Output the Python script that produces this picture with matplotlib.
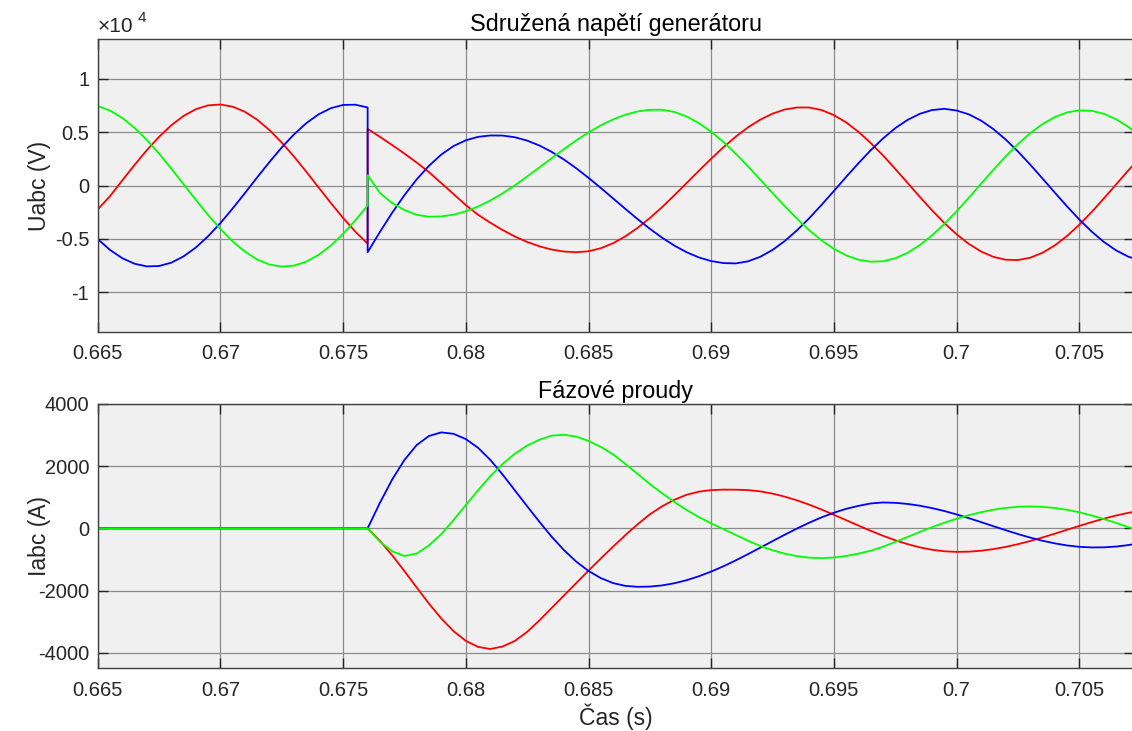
# -*- coding: utf-8 -*-
import numpy as np
import matplotlib
matplotlib.use("Agg")
import matplotlib.pyplot as plt

plt.rcParams['font.family'] = ['Liberation Sans', 'DejaVu Sans']
plt.rcParams['axes.unicode_minus'] = False

# time axis: before the fault and after it (step 0.5 ms)
t_pre = np.linspace(0.665, 0.676, 23)
t_post = np.linspace(0.676, 0.7075, 64)

# line voltages (V) before the fault
ua_pre = [-2250, -1000, 472, 1924, 3308, 4561, 5648, 6522, 7152, 7513, 7593, 7388,
          6907, 6166, 5193, 4024, 2713, 1290, -177, -1638, -3040, -4324, -5452]
ub_pre = [7452, 7025, 6333, 5405, 4277, 2991, 1578, 118, -1350, -2766, -4073, -5239,
          -6194, -6934, -7408, -7596, -7504, -7133, -6500, -5627, -4535, -3264, -1872]
uc_pre = [-5017, -6031, -6809, -7328, -7578, -7543, -7228, -6638, -5809, -4750, -3519, -2149,
          -707, 765, 2205, 3568, 4795, 5841, 6669, 7246, 7552, 7575, 7314]

# line voltages (V) after the fault
ua_post = [5310, 4560, 3790, 2990, 2150, 1250, 230, -800, -1830, -2740, -3490, -4170,
           -4780, -5290, -5700, -6000, -6185, -6250, -6160, -5876, -5406, -4764, -3969, -3041,
           -2024, -909, 234, 1388, 2517, 3591, 4579, 5450, 6171, 6737, 7121, 7316,
           7310, 7070, 6599, 5911, 5031, 3984, 2823, 1557, 249, -1061, -2330, -3513,
           -4574, -5474, -6187, -6687, -6953, -6982, -6763, -6302, -5615, -4729, -3672, -2491,
           -1212, 106, 1421, 2685]
ub_post = [970, -700, -1650, -2300, -2750, -2920, -2899, -2730, -2418, -1970, -1403, -733,
           20, 842, 1696, 2562, 3414, 4229, 4979, 5639, 6196, 6639, 6939, 7096,
           7098, 6890, 6467, 5842, 5034, 4072, 2983, 1792, 552, -707, -1944, -3120,
           -4204, -5149, -5938, -6548, -6952, -7137, -7097, -6817, -6307, -5583, -4670, -3598,
           -2412, -1132, 177, 1479, 2732, 3885, 4905, 5754, 6417, 6851, 7046, 7004,
           6723, 6211, 5489, 4580]
uc_post = [-6250, -4350, -2550, -900, 580, 1850, 2900, 3700, 4240, 4560, 4690, 4681,
           4524, 4211, 3749, 3152, 2435, 1619, 720, -225, -1205, -2186, -3144, -4052,
           -4891, -5632, -6253, -6741, -7079, -7267, -7298, -7103, -6678, -6035, -5195, -4190,
           -3051, -1803, -507, 807, 2090, 3304, 4410, 5373, 6148, 6722, 7072, 7190,
           7028, 6668, 6079, 5284, 4308, 3190, 1956, 660, -661, -1956, -3184, -4309,
           -5285, -6081, -6669, -7029]

# phase currents (A): zero before the fault
i_pre = np.zeros(len(t_pre))
ia_post = [0, -402, -867, -1377, -1905, -2422, -2899, -3306, -3618, -3813, -3880, -3800,
           -3620, -3330, -2960, -2560, -2160, -1760, -1360, -970, -590, -220, 130, 450,
           710, 920, 1080, 1180, 1230, 1245, 1243, 1230, 1188, 1117, 1019, 899,
           759, 603, 435, 262, 89, -80, -239, -383, -508, -612, -689, -738,
           -757, -750, -720, -668, -597, -509, -407, -293, -172, -46, 78, 199,
           312, 412, 499, 567]
ib_post = [0, -430, -740, -890, -810, -548, -186, 266, 748, 1223, 1680, 2070,
           2400, 2660, 2850, 2980, 3010, 2950, 2810, 2620, 2380, 2070, 1750, 1423,
           1125, 846, 587, 360, 160, -26, -213, -401, -567, -706, -815, -895,
           -943, -957, -938, -889, -812, -720, -593, -437, -277, -116, 38, 181,
           310, 423, 521, 599, 657, 693, 705, 692, 655, 596, 516, 415,
           299, 174, 39, -98]
ic_post = [0, 820, 1570, 2200, 2680, 2970, 3085, 3040, 2870, 2590, 2200, 1730,
           1220, 710, 210, -270, -700, -1070, -1370, -1600, -1760, -1850, -1880, -1873,
           -1835, -1766, -1667, -1540, -1390, -1219, -1030, -829, -621, -411, -204, -4,
           184, 354, 503, 627, 723, 800, 832, 820, 785, 728, 651, 557,
           447, 327, 199, 69, -60, -184, -298, -399, -483, -550, -594, -614,
           -611, -586, -538, -469]

x_ticks = [0.665, 0.67, 0.675, 0.68, 0.685, 0.69, 0.695, 0.7, 0.705]
x_labels = ['0.665', '0.67', '0.675', '0.68', '0.685', '0.69', '0.695', '0.7', '0.705']
u_ticks = [-1e4, -0.5e4, 0, 0.5e4, 1e4]
u_labels = ['-1', '-0.5', '0', '0.5', '1']
i_ticks = [-4000, -2000, 0, 2000, 4000]
i_labels = ['-4000', '-2000', '0', '2000', '4000']

TXT = '#262626'
LW = dict(lw=1.3, solid_joinstyle='round')


def style(ax):
    ax.set_facecolor('#f0f0f0')
    ax.grid(True, color='#8c8c8c', linewidth=0.9)
    ax.set_axisbelow(True)
    for s in ax.spines.values():
        s.set_color('#404040')
        s.set_linewidth(1.0)
    ax.tick_params(direction='in', length=7, width=1, colors=TXT, labelsize=14.5,
                   top=True, right=True)
    ax.tick_params(axis='x', pad=9)
    ax.tick_params(axis='y', pad=6)
    ax.set_xlim(0.665, 0.70723)
    ax.set_xticks(x_ticks)
    ax.set_xticklabels(x_labels)


fig = plt.figure(figsize=(11.32, 7.31), dpi=100)

# top: generator line voltages
ax1 = fig.add_axes([0.0863, 0.5462, 0.9155, 0.4000])
style(ax1)
t_u = np.r_[t_pre, t_post]
ax1.plot(t_u, np.r_[ua_pre, ua_post], color='#ff0000', **LW)
ax1.plot(t_u, np.r_[uc_pre, uc_post], color='#0000ff', **LW)
ax1.plot(t_u, np.r_[ub_pre, ub_post], color='#00ff00', **LW)
ax1.set_ylim(-13700, 13700)
ax1.set_yticks(u_ticks)
ax1.set_yticklabels(u_labels)
ax1.set_title('Sdružená napětí generátoru', fontsize=16.8, color='#000000', pad=6)
ax1.set_ylabel('Uabc (V)', fontsize=16.5, color=TXT)
ax1.yaxis.set_label_coords(-0.045, 0.5)
ax1.text(0.0, 1.012, '×10', transform=ax1.transAxes, fontsize=15, color=TXT,
         ha='left', va='bottom')
ax1.text(0.039, 1.05, '4', transform=ax1.transAxes, fontsize=11, color=TXT,
         ha='left', va='bottom')

# bottom: phase currents
ax2 = fig.add_axes([0.0863, 0.0858, 0.9155, 0.3616])
style(ax2)
t_i = np.r_[t_pre, t_post]
ax2.plot(t_i, np.r_[i_pre, ia_post], color='#ff0000', **LW)
ax2.plot(t_i, np.r_[i_pre, ic_post], color='#0000ff', **LW)
ax2.plot(t_i, np.r_[i_pre, ib_post], color='#00ff00', **LW)
ax2.set_ylim(-4500, 4000)
ax2.set_yticks(i_ticks)
ax2.set_yticklabels(i_labels)
ax2.set_title('Fázové proudy', fontsize=16.8, color='#000000', pad=4)
ax2.set_ylabel('Iabc (A)', fontsize=16.5, color=TXT)
ax2.yaxis.set_label_coords(-0.045, 0.5)
ax2.set_xlabel('Čas (s)', fontsize=16.5, color=TXT)
ax2.xaxis.set_label_coords(0.5, -0.135)

fig.savefig('out.png', dpi=100)
